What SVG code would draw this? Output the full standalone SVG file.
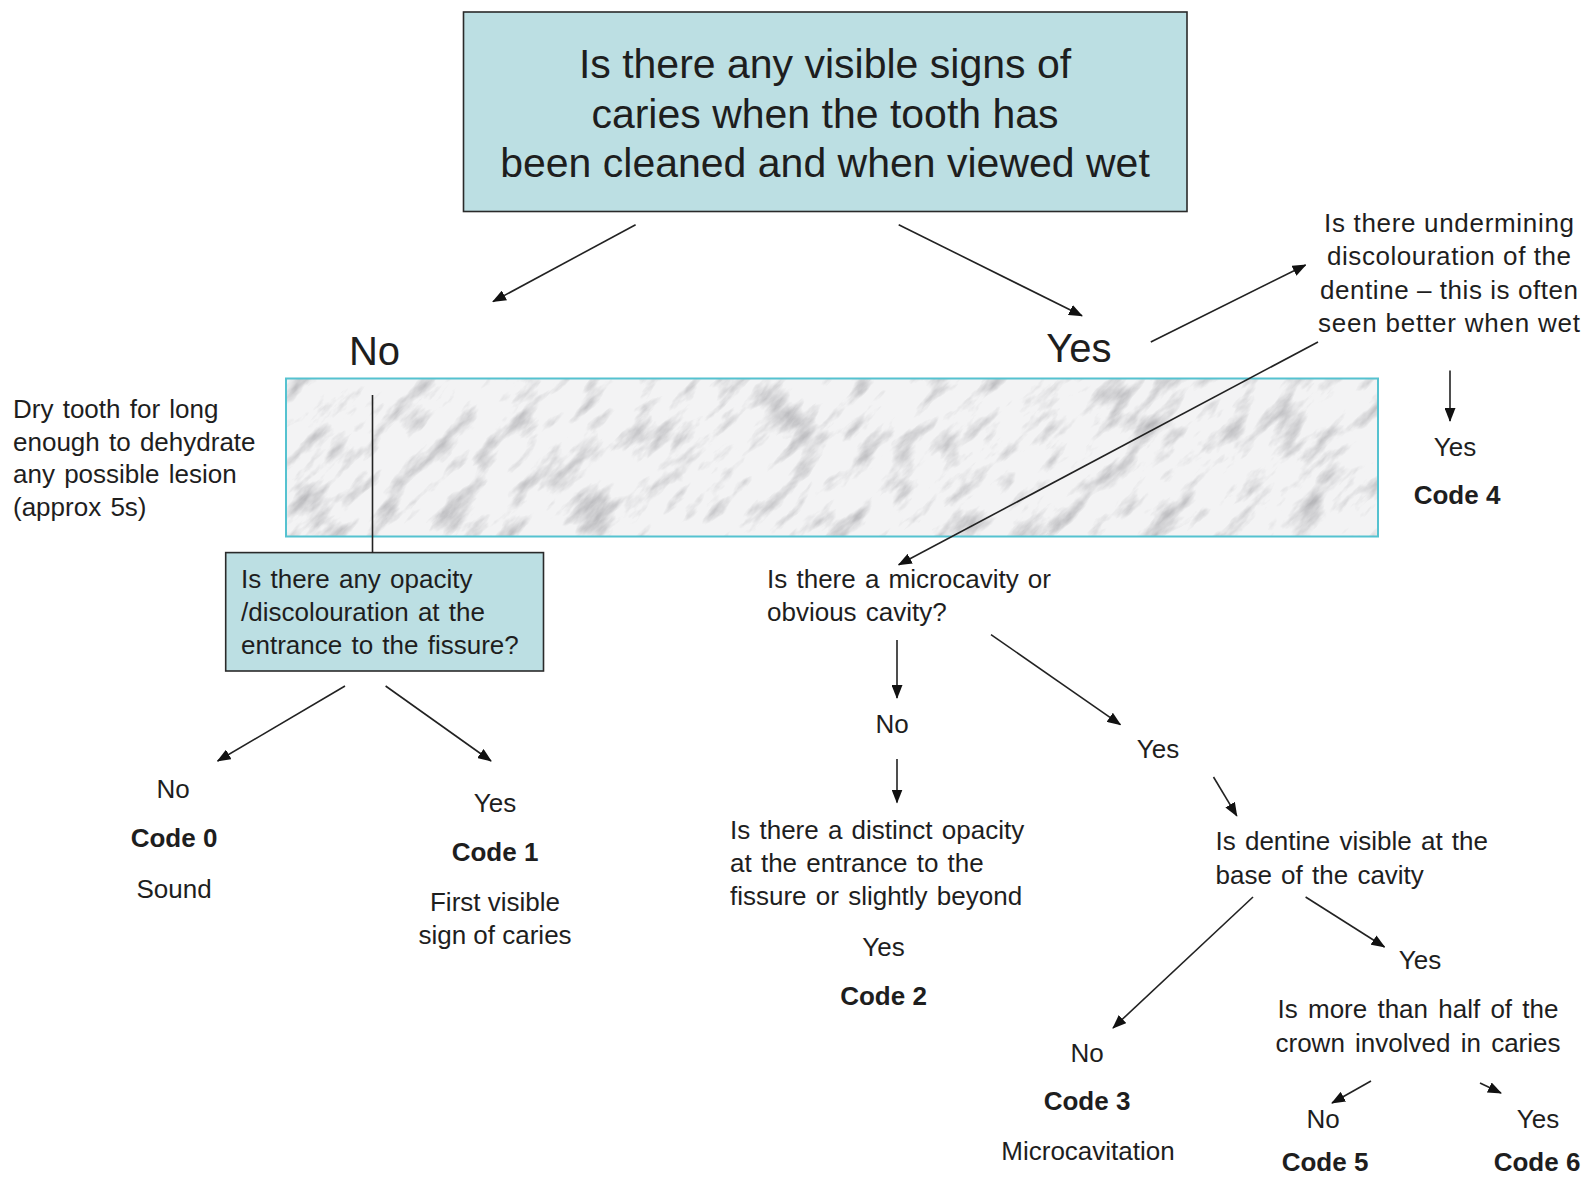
<svg xmlns="http://www.w3.org/2000/svg" width="1587" height="1178" viewBox="0 0 1587 1178">
<style>
  text { font-family: "Liberation Sans", Arial, sans-serif; fill: #1e1e1e; }
  .big { font-size: 41px; text-anchor: middle; }
  .yn { font-size: 40px; text-anchor: middle; }
  .t { font-size: 26px; word-spacing: 2px; }
  .c { font-size: 26px; text-anchor: middle; }
  .b { font-size: 26px; font-weight: bold; text-anchor: middle; }
  .box { fill: #bcdfe3; stroke: #2a2a2a; stroke-width: 1.6; }
  .conn line { stroke: #222; stroke-width: 1.6; }
  .arr { marker-end: url(#ah); }
</style>
<defs>
  <marker id="ah" markerUnits="userSpaceOnUse" viewBox="0 0 14 11" refX="13" refY="5.5" markerWidth="14" markerHeight="11" orient="auto">
    <path d="M0,0 L14,5.5 L0,11 Z" fill="#111"/>
  </marker>
  <filter id="marble" x="0" y="0" width="1" height="1" filterUnits="objectBoundingBox">
    <feTurbulence type="fractalNoise" baseFrequency="0.02 0.055" numOctaves="5" seed="11"/>
    <feColorMatrix type="matrix" values="0 0 0 0 0.45  0 0 0 0 0.45  0 0 0 0 0.47  -2.4 0 0 0 1.2"/>
  </filter>
  <clipPath id="bandClip"><rect x="286" y="378.5" width="1092" height="158"/></clipPath>
</defs>
<rect width="1587" height="1178" fill="#ffffff"/>

<g id="marble-band">
  <rect x="286" y="378.5" width="1092" height="158" fill="#f3f3f4"/>
  <g clip-path="url(#bandClip)">
    <g transform="rotate(-45 832 457)">
      <rect x="232" y="-143" width="1200" height="1200" filter="url(#marble)"/>
    </g>
  </g>
  <rect x="286" y="378.5" width="1092" height="158" fill="none" stroke="#55c2d0" stroke-width="2"/>
</g>

<g id="q-visible">
  <rect class="box" x="463.5" y="12" width="723.5" height="199.5"/>
  <text class="big" x="825" y="78">Is there any visible signs of</text>
  <text class="big" x="825" y="127.5">caries when the tooth has</text>
  <text class="big" x="825" y="177">been cleaned and when viewed  wet</text>
</g>

<g id="label-no-main"><text class="yn" x="374.5" y="365">No</text></g>
<g id="label-yes-main"><text class="yn" x="1079" y="362">Yes</text></g>

<g id="note-dry">
  <text class="t" x="13" y="418">Dry tooth for long</text>
  <text class="t" x="13" y="450.5">enough to dehydrate</text>
  <text class="t" x="13" y="483">any possible lesion</text>
  <text class="t" x="13" y="515.5">(approx 5s)</text>
</g>

<g id="q-undermining">
  <text class="c" x="1449" y="232" textLength="250">Is there undermining</text>
  <text class="c" x="1449" y="265" textLength="244">discolouration of the</text>
  <text class="c" x="1449" y="298.5" textLength="258">dentine – this is often</text>
  <text class="c" x="1449" y="332" textLength="262">seen better when wet</text>
</g>

<g id="code4">
  <text class="c" x="1455" y="455.5">Yes</text>
  <text class="b" x="1457" y="504">Code 4</text>
</g>

<g id="q-opacity">
  <rect class="box" x="225.7" y="552.6" width="317.8" height="118.4"/>
  <text class="t" x="241" y="588">Is there any opacity</text>
  <text class="t" x="241" y="621">/discolouration at the</text>
  <text class="t" x="241" y="654">entrance to the fissure?</text>
</g>

<g id="code0">
  <text class="c" x="173" y="797.5">No</text>
  <text class="b" x="174" y="847">Code 0</text>
  <text class="c" x="174" y="897.7">Sound</text>
</g>

<g id="code1">
  <text class="c" x="495" y="811.7">Yes</text>
  <text class="b" x="495" y="861">Code 1</text>
  <text class="c" x="495" y="911">First visible</text>
  <text class="c" x="495" y="944">sign of caries</text>
</g>

<g id="q-microcavity">
  <text class="t" x="767" y="588">Is there a microcavity or</text>
  <text class="t" x="767" y="620.5">obvious cavity?</text>
</g>

<g id="label-no-micro"><text class="c" x="892" y="733">No</text></g>

<g id="q-distinct">
  <text class="t" x="730" y="839">Is there a distinct opacity</text>
  <text class="t" x="730" y="872">at the entrance to the</text>
  <text class="t" x="730" y="905">fissure or slightly beyond</text>
</g>

<g id="code2">
  <text class="c" x="883.5" y="955.5">Yes</text>
  <text class="b" x="883.5" y="1005">Code 2</text>
</g>

<g id="label-yes-micro"><text class="c" x="1158" y="758">Yes</text></g>

<g id="q-dentine">
  <text class="t" x="1215.5" y="850">Is dentine visible at the</text>
  <text class="t" x="1215.5" y="883.5">base of the cavity</text>
</g>

<g id="code3">
  <text class="c" x="1087" y="1061.7">No</text>
  <text class="b" x="1087" y="1110">Code 3</text>
  <text class="c" x="1088" y="1160">Microcavitation</text>
</g>

<g id="label-yes-dentine"><text class="c" x="1420" y="968.6">Yes</text></g>

<g id="q-half">
  <text class="c" x="1418" y="1018" style="word-spacing:3px">Is more than half of the</text>
  <text class="c" x="1418" y="1051.6" style="word-spacing:3px">crown involved in caries</text>
</g>

<g id="code5">
  <text class="c" x="1323" y="1127.5">No</text>
  <text class="b" x="1325" y="1171">Code 5</text>
</g>

<g id="code6">
  <text class="c" x="1538" y="1127.5">Yes</text>
  <text class="b" x="1537" y="1171">Code 6</text>
</g>

<g id="connectors" class="conn">
  <line class="arr" x1="635.6" y1="224.7" x2="493" y2="301.6"/>
  <line class="arr" x1="898.7" y1="224.7" x2="1082" y2="315.8"/>
  <line class="arr" x1="1150.8" y1="342" x2="1305.6" y2="265"/>
  <line class="arr" x1="1318" y1="342" x2="898.7" y2="564.8"/>
  <line class="arr" x1="1450" y1="370.5" x2="1450" y2="421"/>
  <line x1="372.5" y1="395" x2="372.5" y2="553"/>
  <line class="arr" x1="345" y1="686" x2="217.6" y2="761"/>
  <line class="arr" x1="385.6" y1="686" x2="491" y2="761"/>
  <line class="arr" x1="897" y1="640" x2="897" y2="698"/>
  <line class="arr" x1="897" y1="759" x2="897" y2="802.6"/>
  <line class="arr" x1="991" y1="634.6" x2="1120.4" y2="724.7"/>
  <line class="arr" x1="1213.5" y1="777" x2="1236.8" y2="815.8"/>
  <line class="arr" x1="1253" y1="897" x2="1113" y2="1028"/>
  <line class="arr" x1="1305.6" y1="897" x2="1384.5" y2="947"/>
  <line class="arr" x1="1371" y1="1081" x2="1332" y2="1103"/>
  <line class="arr" x1="1480" y1="1083" x2="1501" y2="1093"/>
</g>
</svg>
